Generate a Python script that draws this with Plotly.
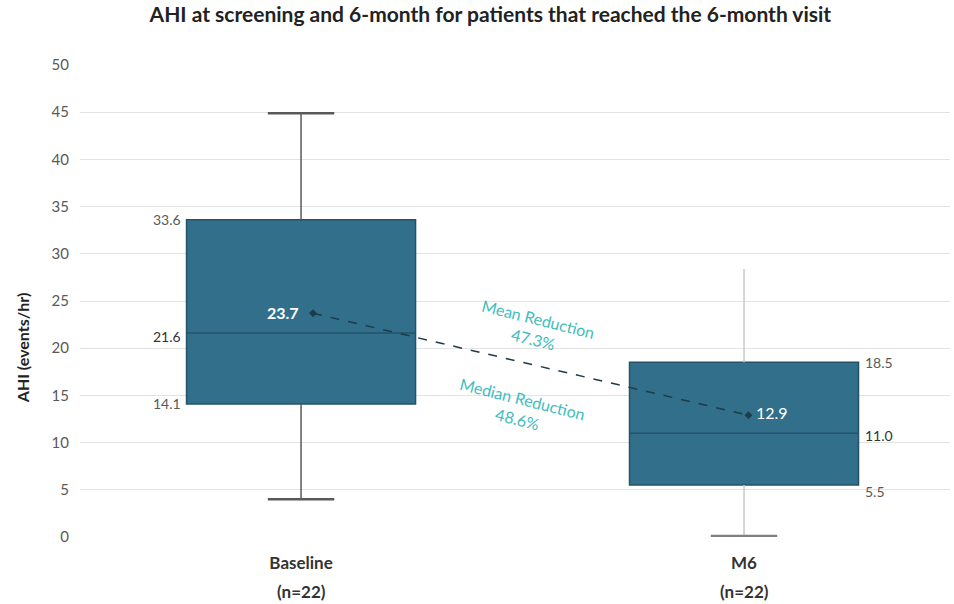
import plotly.graph_objects as go

# Summary statistics of AHI (events/hr) per visit
categories = ["Baseline", "M6"]
n_labels = ["(n=22)", "(n=22)"]
q1 = [14.1, 5.5]
median = [21.6, 11.0]
q3 = [33.6, 18.5]
whisker_min = [4.0, 0.1]
whisker_max = [44.9, 28.4]
means = [23.7, 12.9]
mean_reduction = "47.3%"
median_reduction = "48.6%"

xpos = [0, 1]
box_w = 0.517
cap_half = 0.075
mean_dx = [0.027, 0.01]

FONT = "Lato, 'Open Sans', sans-serif"
BOX_FILL = "#326f8a"
BOX_EDGE = "#23536b"
whisker_colors = ["#595959", "#c8c8c8"]
cap_colors = ["#595959", "#808080"]

fig = go.Figure()

# Whiskers: lower (min -> q1) and upper (q3 -> max) segments
for i, x in enumerate(xpos):
    for lo, hi in [(whisker_min[i], q1[i]), (q3[i], whisker_max[i])]:
        fig.add_trace(go.Scatter(
            x=[x, x], y=[lo, hi], mode="lines",
            line=dict(color=whisker_colors[i], width=1.5),
            hoverinfo="skip", showlegend=False))
    fig.add_trace(go.Scatter(
        x=[x - cap_half, x + cap_half], y=[whisker_min[i]] * 2, mode="lines",
        line=dict(color=cap_colors[i], width=2.5),
        hoverinfo="skip", showlegend=False))
# Top cap only on baseline
fig.add_trace(go.Scatter(
    x=[xpos[0] - cap_half, xpos[0] + cap_half], y=[whisker_max[0]] * 2, mode="lines",
    line=dict(color=cap_colors[0], width=2.5), hoverinfo="skip", showlegend=False))

# Boxes (q1 / median / q3)
for i, x in enumerate(xpos):
    fig.add_trace(go.Box(
        x=[x], q1=[q1[i]], median=[median[i]], q3=[q3[i]],
        lowerfence=[q1[i]], upperfence=[q3[i]],
        width=box_w, whiskerwidth=0, fillcolor=BOX_FILL,
        line=dict(color=BOX_EDGE, width=1.5),
        boxpoints=False, showlegend=False, hoverinfo="skip"))

# Mean-to-mean dashed line
mean_x = [xpos[i] + mean_dx[i] for i in range(2)]
fig.add_trace(go.Scatter(
    x=mean_x, y=means, mode="lines+markers",
    line=dict(color="#1c3b4b", width=1.5, dash="dash"),
    marker=dict(symbol="diamond", size=6, color="#1c3b4b"),
    hoverinfo="skip", showlegend=False))

ann = []
# Quartile labels: left of baseline box, right of M6 box
for val, bold in [(q3[0], False), (median[0], True), (q1[0], False)]:
    ann.append(dict(x=xpos[0] - box_w / 2, y=val, xref="x", yref="y",
                    text=f"{val:.1f}", showarrow=False, xanchor="right",
                    xshift=-4, yshift=-3 if bold else 0,
                    font=dict(size=14, color="#333333" if bold else "#595959",
                              family=FONT)))
for val, bold in [(q3[1], False), (median[1], True), (q1[1], False)]:
    ann.append(dict(x=xpos[1] + box_w / 2, y=val, xref="x", yref="y",
                    text=f"{val:.1f}", showarrow=False, xanchor="left",
                    xshift=4, yshift=-2 if bold else -6 if val == q1[1] else 0,
                    font=dict(size=14, color="#333333" if bold else "#595959",
                              family=FONT)))
# Mean labels
ann.append(dict(x=mean_x[0], y=means[0], xref="x", yref="y",
                text=f"<b>{means[0]:.1f}</b>", showarrow=False,
                xanchor="right", xshift=-12, yshift=1,
                font=dict(size=16, color="white", family=FONT)))
ann.append(dict(x=mean_x[1], y=means[1], xref="x", yref="y",
                text=f"{means[1]:.1f}", showarrow=False,
                xanchor="left", xshift=6, yshift=3,
                font=dict(size=16, color="white", family=FONT)))
# Reduction callouts
ann.append(dict(x=0.53, y=22.0, xref="x", yref="y",
                text=f"Mean Reduction<br>{mean_reduction}", showarrow=False,
                textangle=14, font=dict(size=16, color="#3dbdbd", family=FONT)))
ann.append(dict(x=0.495, y=13.6, xref="x", yref="y",
                text=f"Median Reduction<br>{median_reduction}", showarrow=False,
                textangle=14, font=dict(size=16, color="#3dbdbd", family=FONT)))
# Sample sizes under the category labels
for x, t in zip(xpos, n_labels):
    ann.append(dict(x=x, y=0, xref="x", yref="paper", yanchor="top",
                    yshift=-42, text=f"<b>{t}</b>", showarrow=False,
                    font=dict(size=17, color="#333333", family=FONT)))
# Y axis title
ann.append(dict(x=0, y=20.0, xref="paper", yref="y", xanchor="center",
                xshift=-58, text="<b>AHI (events/hr)</b>", showarrow=False,
                textangle=-90, font=dict(size=16, color="#222222", family=FONT)))

fig.update_layout(
    width=954, height=604,
    margin=dict(l=80, r=4, t=65, b=67),
    paper_bgcolor="white", plot_bgcolor="white",
    font=dict(family=FONT, color="#595959"),
    title=dict(text="<b>AHI at screening and 6-month for patients that reached the 6-month visit</b>",
               x=0.514, xanchor="center", y=0.988, yanchor="top",
               font=dict(size=21, color="#222222", family=FONT)),
    xaxis=dict(range=[-0.499, 1.465], tickmode="array", tickvals=xpos,
               ticktext=[f"<b>{c}</b>" for c in categories],
               tickfont=dict(size=17, color="#333333"), ticklabelstandoff=14,
               showgrid=False, zeroline=False, showline=False, ticks=""),
    yaxis=dict(range=[0, 50], dtick=5, tick0=0,
               tickfont=dict(size=15, color="#595959"),
               gridcolor="#e3e3e3", gridwidth=1, zeroline=False,
               showline=False, ticks="", ticklabelstandoff=10),
    annotations=ann,
)

fig.write_html("out.html")
